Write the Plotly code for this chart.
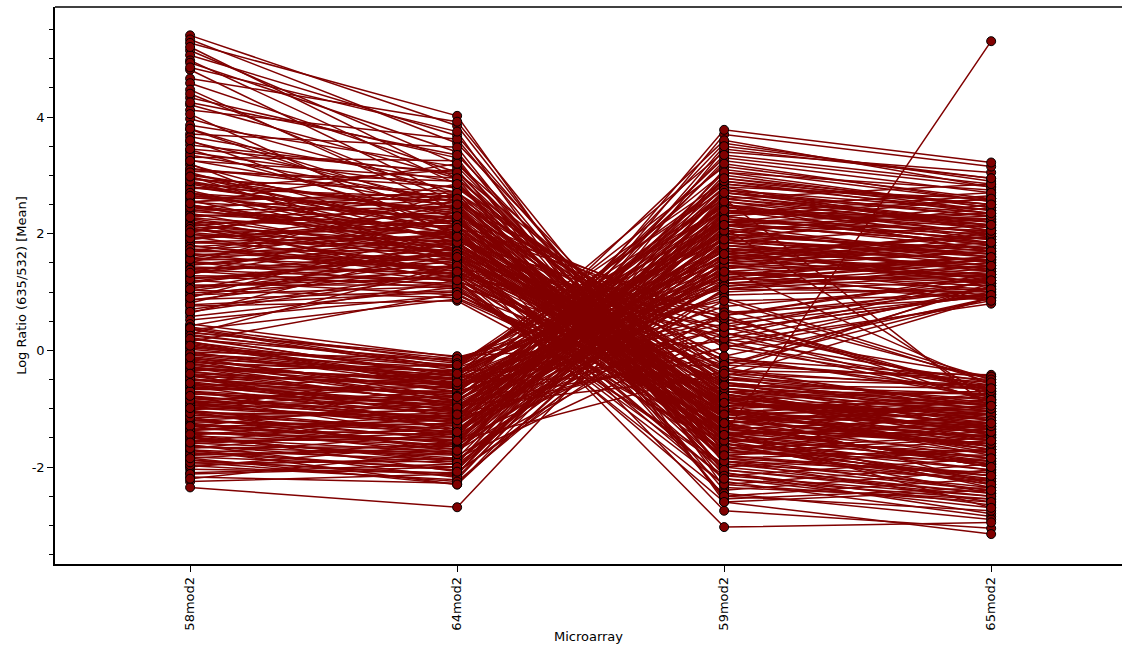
import plotly.graph_objects as go

arrays = ["58mod2", "64mod2", "59mod2", "65mod2"]

# Profiles falling from high (58mod2/64mod2) to low (59mod2/65mod2)
down_58 = [5.40, 5.33, 5.27, 5.14, 5.06, 4.97, 4.93, 4.81, 4.66, 4.58,
           4.47, 4.33, 4.21, 4.12, 3.97, 3.86, 3.79, 3.71, 3.66, 3.58,
           3.52, 3.44, 3.39, 3.31, 3.26, 3.18, 3.12, 3.07, 3.02, 2.97,
           2.93, 2.89, 2.86, 2.81, 2.77, 2.74, 2.69, 2.66, 2.61, 2.57,
           2.54, 2.49, 2.45, 2.42, 2.38, 2.35, 2.31, 2.27, 2.24, 2.19,
           2.16, 2.13, 2.09, 2.05, 2.02, 1.98, 1.95, 1.91, 1.87, 1.84,
           1.80, 1.77, 1.73, 1.69, 1.66, 1.62, 1.58, 1.55, 1.51, 1.47,
           1.43, 1.40, 1.36, 1.32, 1.28, 1.24, 1.20, 1.16, 1.12, 1.07,
           1.03, 0.98, 0.93, 0.87, 0.81, 0.76, 0.70, 0.64, 0.58, 0.42,
           0.35, 0.28, 0.15, 2.50, 1.90, 3.20, 2.20, 4.40, 3.60, 2.70,
           2.10, 1.50, 3.00, 2.80,
           3.35, 3.10, 2.95, 2.85, 2.78, 2.70, 2.62, 2.55, 2.48, 2.40,
           2.33, 2.26, 2.18, 2.12, 2.06, 1.99, 1.93, 1.86, 1.79, 1.72,
           1.65, 1.58, 1.52, 1.46, 1.39, 1.31, 1.25, 1.18, 1.10, 1.02,
           0.95, 0.86, 0.78, 0.66, 0.52, 3.25, 3.05, 2.90, 2.65, 2.45,
           2.28, 2.08, 1.92, 1.74, 1.56, 1.38, 1.22, 1.05, 3.45, 3.80,
           4.25, 4.85, 5.20, 4.05, 2.98, 2.52, 2.02, 1.68, 1.33, 0.90]
down_64 = [3.85, 3.55, 4.02, 3.20, 3.68, 2.85, 3.40, 2.60, 3.92, 3.05,
           2.40, 3.30, 2.95, 3.62, 2.70, 3.15, 2.25, 3.48, 2.88, 2.52,
           3.02, 2.15, 2.78, 3.25, 2.45, 1.95, 2.62, 2.90, 2.30, 2.05,
           2.72, 1.85, 2.50, 2.20, 3.10, 1.70, 2.40, 2.00, 2.58, 1.60,
           2.28, 1.92, 2.65, 1.80, 2.12, 1.55, 2.35, 1.98, 1.45, 2.18,
           1.75, 2.48, 1.35, 2.02, 1.65, 1.88, 1.30, 2.22, 1.50, 1.82,
           1.25, 2.08, 1.40, 1.72, 1.18, 1.95, 1.42, 1.62, 1.10, 1.85,
           1.32, 1.58, 1.05, 1.75, 1.22, 1.45, 0.95, 1.68, 1.12, 1.38,
           0.90, 1.28, 1.55, 1.02, 1.90, 0.85, 1.35, 1.78, 1.08, 1.20,
           0.88, 1.48, 0.98, 1.60, 2.30, 1.40, 1.15, 2.55, 2.00, 1.60,
           1.30, 2.70, 2.35, 2.20,
           2.55, 2.80, 2.35, 2.05, 2.62, 1.90, 2.25, 2.70, 1.75, 2.45,
           2.10, 1.65, 2.30, 1.85, 2.55, 1.60, 2.15, 1.95, 1.40, 2.00,
           1.55, 2.25, 1.30, 1.80, 1.50, 2.05, 1.15, 1.70, 1.25, 1.60,
           1.10, 1.45, 1.00, 1.30, 0.95, 2.95, 1.85, 2.15, 2.45, 1.95,
           2.60, 1.70, 2.40, 1.35, 1.90, 1.20, 1.65, 1.85, 3.05, 2.40,
           3.35, 3.75, 2.95, 1.95, 1.60, 3.20, 2.85, 2.50, 2.30, 2.10]
down_59 = [-1.95, -1.20, -2.35, -0.85, -1.60, -1.40, -2.10, -0.95, -1.75, -1.30,
           -0.70, -2.55, -1.15, -1.85, -0.60, -1.45, -1.05, -2.25, -1.55, -0.80,
           -1.90, -1.25, -0.50, -2.05, -1.35, -0.90, -1.65, -2.40, -1.10, -0.75,
           -1.50, -1.00, -1.80, -0.65, -2.15, -1.20, -1.40, -0.85, -1.70, -1.05,
           -2.00, -1.30, -0.55, -1.60, -1.15, -2.30, -0.95, -1.45, -1.75, -0.70,
           -1.25, -1.90, -1.05, -1.55, -0.80, -2.10, -1.35, -1.00, -1.65, -0.60,
           -1.20, -1.85, -0.90, -1.50, -2.45, -1.10, -0.75, -1.40, -1.70, -1.00,
           -1.30, -0.50, -1.95, -1.15, -1.55, -0.85, -1.25, -2.20, -0.70, -1.45,
           -1.05, -1.80, -0.95, -1.35, -0.65, -1.60, -1.15, -0.40, -2.00, -0.90,
           -1.25, -0.55, -1.50, 0.20, 0.45, -0.15, 0.60, -0.25, -2.75, -3.03,
           -2.60, -2.50, -0.35, -1.45,
           -1.05, -0.35, 0.10, -1.60, -0.90, 0.35, -1.30, -0.20, -0.70, -1.85,
           0.55, -1.15, -0.45, -1.40, 0.05, -0.80, -2.05, -0.30, 0.70, -1.10,
           -0.55, -1.75, 0.25, -0.95, -1.50, -0.10, -2.15, -0.60, 0.40, -1.20,
           -0.25, -1.45, -0.75, 0.15, -1.00, -2.50, -1.25, 0.60, -1.90, -0.45,
           -1.00, 0.30, -1.55, -0.15, -0.85, -2.30, -0.35, 0.50, -0.65, -1.70,
           -1.35, -2.60, -0.80, -1.10, -2.20, -1.45, -0.60, -1.25, -1.80, -0.90]
down_65 = [-2.20, -1.65, -2.55, -1.10, -2.05, -1.45, -2.65, -0.90, -1.80, -1.95,
           -1.05, -2.35, -1.50, -2.40, -0.75, -1.25, -1.70, -2.85, -1.35, -1.20,
           -2.10, -0.95, -0.60, -2.50, -1.75, -1.40, -2.30, -2.05, -1.00, -1.55,
           -1.90, -0.85, -2.25, -1.10, -1.85, -1.60, -2.70, -0.70, -1.45, -1.30,
           -2.45, -1.05, -0.95, -2.15, -1.70, -2.60, -0.80, -1.95, -1.50, -1.25,
           -2.00, -2.35, -0.90, -1.40, -1.65, -2.80, -1.15, -1.80, -2.20, -0.65,
           -1.55, -1.70, -1.35, -2.05, -2.90, -0.95, -1.45, -1.85, -1.25, -2.30,
           -1.60, -0.85, -2.40, -1.10, -1.75, -1.50, -2.00, -2.55, -0.75, -1.30,
           -1.65, -2.15, -1.05, -1.90, -1.20, -2.45, -1.40, -0.60, -1.70, -1.15,
           -0.95, -1.35, -2.25, -0.55, -0.70, -0.45, -0.90, -0.50, -3.05, -2.95,
           -3.15, -2.75, -0.42, 5.30,
           -1.35, -0.65, -0.60, -1.95, -1.10, 0.95, -1.60, -0.55, -1.45, -2.10,
           -0.75, -1.25, -0.90, -2.35, 1.10, -0.70, -2.45, -1.05, -0.50, -1.50,
           -0.95, -1.90, 1.20, -1.70, -1.20, -0.80, -2.50, -1.00, -0.65, -1.85,
           0.90, -1.10, -1.30, -0.85, -1.55, -2.20, -0.85, 1.30, -2.60, -1.20,
           -1.75, -0.45, -2.30, -0.70, -1.40, -1.95, -0.95, 1.05, -1.00, -2.15,
           -1.60, -2.40, -1.30, -0.75, -2.70, -1.85, -0.95, -2.00, -1.55, -1.25]

# Profiles rising from low (58mod2/64mod2) to high (59mod2/65mod2)
up_58 = [0.45, 0.40, 0.36, 0.31, 0.27, 0.22, 0.19, 0.14, 0.10, 0.06,
         0.02, -0.03, -0.07, -0.11, -0.16, -0.20, -0.24, -0.28, -0.33, -0.37,
         -0.41, -0.45, -0.49, -0.54, -0.58, -0.62, -0.66, -0.71, -0.75, -0.79,
         -0.83, -0.87, -0.91, -0.95, -0.99, -1.03, -1.07, -1.11, -1.15, -1.19,
         -1.23, -1.27, -1.31, -1.35, -1.39, -1.43, -1.47, -1.51, -1.55, -1.59,
         -1.63, -1.67, -1.71, -1.75, -1.79, -1.83, -1.88, -1.93, -1.98, -2.04,
         -2.10, -2.17, -2.25, -2.35, -0.40, -0.90, -0.15, -1.40, 0.30, -0.70,
         -1.25, -0.50, -0.08, -0.52, -0.95, -1.20, -1.45, -0.30, -0.80, -1.60,
         0.15, -1.05, -0.62, -1.85, -0.22, -1.70, -0.44, -1.30, -0.03, -2.00,
         -0.60, -1.20, -0.30, -1.50,
         0.38, 0.25, 0.12, 0.04, -0.05, -0.13, -0.21, -0.29, -0.36, -0.44,
         -0.51, -0.59, -0.67, -0.74, -0.82, -0.89, -0.97, -1.04, -1.12, -1.20,
         -1.27, -1.35, -1.42, -1.50, -1.57, -1.65, -1.72, -1.80, -1.89, -1.97,
         0.20, -0.18, -0.60, -0.93, -1.15, -1.38, -1.62, -0.35, -0.70, -1.02,
         -1.48, -1.78, -2.12, 0.08, -0.48, -0.86, -1.30, -1.92, -0.26, -1.08,
         -0.56, -1.68, -0.12, -1.44, -0.78, -2.20, -0.99, -1.58, -0.40, -1.85]
up_64 = [-0.12, -0.20, -0.35, -0.15, -0.28, -0.45, -0.18, -0.40, -0.55, -0.25,
         -0.38, -0.62, -0.30, -0.50, -0.70, -0.42, -0.58, -0.85, -0.48, -0.66,
         -0.90, -0.55, -0.78, -1.02, -0.72, -0.95, -0.62, -1.10, -0.88, -1.18,
         -0.80, -1.05, -1.30, -0.98, -1.22, -1.40, -1.12, -1.35, -1.08, -1.50,
         -1.28, -1.58, -1.20, -1.45, -1.70, -1.38, -1.62, -1.85, -1.52, -1.78,
         -1.95, -1.65, -1.88, -2.05, -1.72, -2.00, -2.15, -1.90, -2.22, -2.10,
         -1.95, -2.28, -2.12, -2.69, -0.60, -1.15, -0.35, -1.55, -0.10, -0.95,
         -1.60, -0.75, -0.48, -0.40, -0.70, -1.00, -1.15, -0.95, -1.50, -1.40,
         -0.65, -1.75, -1.25, -1.58, -0.82, -2.30, -1.05, -0.85, -0.15, -1.60,
         -0.90, -1.40, -0.50, -1.75,
         -0.30, -0.22, -0.52, -0.28, -0.45, -0.72, -0.36, -0.65, -0.92, -0.58,
         -0.85, -1.08, -0.70, -1.00, -1.25, -0.92, -1.18, -1.45, -1.02, -1.35,
         -1.65, -1.25, -1.55, -1.88, -1.48, -1.80, -2.05, -1.68, -2.12, -1.85,
         -0.42, -0.88, -0.48, -1.30, -1.70, -1.10, -2.18, -0.25, -1.35, -0.78,
         -1.92, -1.42, -2.00, -0.60, -1.15, -0.60, -1.78, -2.25, -0.55, -1.55,
         -0.98, -1.28, -0.80, -2.08, -1.20, -1.72, -0.40, -1.10, -1.40, -2.30]
up_59 = [1.05, 2.20, 1.60, 0.85, 2.75, 1.35, 1.95, 3.15, 1.20, 2.45,
         1.75, 0.95, 2.60, 1.45, 2.05, 3.40, 1.15, 1.85, 2.30, 1.55,
         2.85, 1.30, 2.15, 1.00, 2.50, 1.70, 3.05, 1.40, 2.00, 1.25,
         2.70, 1.80, 2.35, 1.10, 3.55, 1.65, 2.25, 1.50, 2.90, 2.10,
         1.35, 2.55, 1.90, 3.25, 1.60, 2.40, 1.20, 2.75, 2.00, 3.70,
         1.45, 2.30, 1.75, 2.95, 1.05, 2.20, 3.45, 1.65, 2.60, 1.30,
         3.10, 1.85, 2.45, 2.14, 0.35, 0.05, -0.25, 0.60, 0.15, -0.45,
         3.78, 3.60, 2.00, 1.60, 2.40, 1.80, 2.70, 1.90, 1.40, 2.50,
         2.20, 3.00, 1.15, 2.80, 2.65, 1.95, 3.30, 1.70, 1.50, 2.15,
         1.40, 2.10, 0.90, 2.60,
         1.25, 2.40, 0.45, 1.90, 2.85, 0.75, 2.15, 1.55, -0.10, 2.60,
         1.30, 3.20, 0.55, 1.75, 2.30, 0.20, 2.05, 1.15, 2.80, 0.85,
         1.85, 2.45, -0.35, 1.50, 3.05, 0.65, 2.25, 1.35, 2.65, 0.30,
         1.70, 2.50, 1.10, 3.35, 1.60, 0.05, 2.35, 2.90, 1.95, 1.45,
         2.75, 1.80, 2.05, 0.60, 2.20, 1.25, 3.50, 1.55, -0.40, 2.55,
         1.65, 2.95, 2.25, 1.05, 0.40, 2.70, 1.90, 2.15, 1.35, 2.40]
up_65 = [1.30, 2.05, 1.85, 0.95, 2.40, 1.15, 2.25, 2.60, 1.50, 1.95,
         1.40, 1.05, 2.85, 1.70, 1.60, 3.05, 0.90, 2.15, 1.80, 1.25,
         2.50, 1.60, 2.30, 1.20, 2.00, 1.45, 2.75, 1.95, 1.70, 1.05,
         2.20, 1.55, 2.65, 1.35, 2.90, 1.25, 1.90, 1.80, 2.35, 1.50,
         1.10, 2.15, 2.45, 2.70, 1.40, 1.85, 1.55, 2.05, 1.65, 3.15,
         1.30, 2.60, 1.20, 2.40, 1.00, 1.75, 2.95, 1.95, 2.10, 1.55,
         2.55, 1.35, 2.20, 1.60, 0.95, 0.85, 1.10, 1.25, 0.80, 0.90,
         3.22, 2.80, 2.50, 2.00, 2.10, 1.40, 2.30, 1.65, 1.70, 1.90,
         2.35, 2.45, 1.45, 2.60, 2.20, 1.50, 2.80, 1.15, 1.75, 2.00,
         -0.60, -0.85, -0.50, -1.00,
         1.60, 2.25, 0.95, 1.45, 2.40, 1.15, 1.85, 2.05, 0.90, 2.20,
         1.20, 2.55, -0.70, 1.55, 1.80, 1.00, 2.35, 1.30, 2.05, -0.55,
         1.65, 2.70, 1.15, 1.25, 2.45, 0.90, 1.90, 1.60, 2.15, -0.85,
         1.95, 1.70, 1.40, 2.85, 1.15, -0.65, 2.25, 2.50, 1.75, 1.00,
         2.30, 1.35, 1.70, 1.05, 2.60, 0.95, 2.95, 1.85, -0.95, 2.00,
         1.30, 2.50, 2.05, 1.45, 1.20, 2.35, 1.60, 1.85, 0.85, 2.15]

y_ticks = [-2, 0, 2, 4]
y_tick_labels = ["-2", "0", "2", "4"]

positions = list(range(len(arrays)))
xs, ys = [], []
for cols in [(down_58, down_64, down_59, down_65), (up_58, up_64, up_59, up_65)]:
    for vals in zip(*cols):
        xs.extend(positions + [None])
        ys.extend(list(vals) + [None])

fig = go.Figure()
fig.add_trace(go.Scatter(
    x=xs, y=ys, mode="lines+markers",
    line=dict(color="#800000", width=1.5),
    marker=dict(size=9, color="#800000", line=dict(color="#000000", width=1)),
    connectgaps=False, hoverinfo="skip", showlegend=False,
))

font_family = "DejaVu Sans"
fig.update_layout(
    width=1122, height=650,
    margin=dict(l=55, r=0, t=7, b=86),
    paper_bgcolor="white", plot_bgcolor="white",
    font=dict(family=font_family, size=13, color="black"),
    xaxis=dict(
        range=[-0.506, 3.49], tickvals=positions, ticktext=arrays, tickangle=-90,
        ticks="outside", ticklen=6, tickwidth=1, tickcolor="black",
        showline=True, linecolor="black", linewidth=1.5, mirror=False,
        showgrid=False, zeroline=False,
        title=dict(text="Microarray", standoff=2, font=dict(size=13)),
    ),
    yaxis=dict(
        range=[-3.663, 5.886], tickvals=y_ticks, ticktext=y_tick_labels,
        ticks="outside", ticklen=6, tickwidth=1, tickcolor="black",
        minor=dict(dtick=0.5, tick0=0, ticks="outside", ticklen=4, tickcolor="black", showgrid=False),
        showline=True, linecolor="black", linewidth=1.5, mirror=False,
        showgrid=False, zeroline=False,
        title=dict(text="Log Ratio (635/532) [Mean]", standoff=2, font=dict(size=13)),
    ),
    shapes=[
        dict(type="rect", xref="paper", yref="paper", x0=0.99, x1=1.0, y0=0.004, y1=0.996,
             fillcolor="white", line=dict(width=0), layer="above"),
        dict(type="line", xref="paper", yref="paper", x0=0, x1=1, y0=1, y1=1,
             line=dict(color="black", width=1.5), layer="above"),
    ],
)

fig.write_html("out.html", config={"displayModeBar": False})
